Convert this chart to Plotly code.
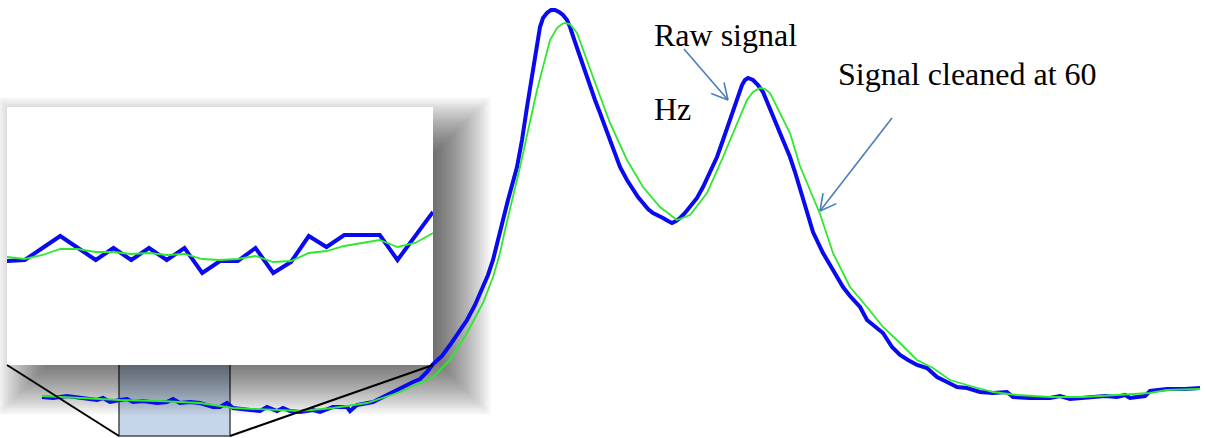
import math
import plotly.graph_objects as go

# ---- main trace: raw signal (blue) and 60 Hz cleaned signal (green) ----
raw_x = [42, 53, 67, 83, 97, 103, 110, 120, 127, 133, 143, 157, 167, 173, 180, 190, 200, 213, 220, 227,
         233, 250, 260, 267, 277, 283, 290, 300, 313, 320, 333, 347, 350, 357, 373, 387, 400, 413, 420, 427,
         433, 442, 450, 458, 467, 475, 483, 488, 493, 500, 508, 517, 522, 527, 533, 540, 543, 547, 551, 555,
         559, 563, 567, 570, 575, 580, 585, 590, 595, 600, 605, 610, 615, 620, 627, 633, 638, 643, 648, 653,
         658, 663, 668, 672, 676, 680, 685, 690, 697, 703, 710, 717, 723, 730, 737, 742, 745, 748, 753, 758,
         763, 770, 775, 780, 785, 790, 795, 800, 807, 813, 817, 823, 833, 843, 850, 860, 867, 875, 883, 892,
         900, 908, 917, 927, 937, 947, 957, 967, 980, 993, 1007, 1013, 1030, 1050, 1060, 1070, 1083, 1095,
         1105, 1117, 1125, 1130, 1140, 1145, 1150, 1167, 1185, 1200]
raw_y = [41, 40, 42, 40, 38, 40, 36, 38, 39, 36, 37, 35, 36, 39, 35, 36, 35, 31, 31, 35,
         30, 28, 27, 31, 27, 30, 27, 26, 28, 26, 31, 31, 27, 33, 36, 43, 50, 56, 59, 66,
         74, 82, 93, 104, 118, 133, 151, 163, 178, 208, 238, 271, 298, 331, 371, 411, 420, 425, 428, 428,
         426, 423, 418, 411, 396, 381, 366, 351, 338, 325, 311, 298, 284, 271, 258, 248, 241, 235, 229, 225,
         223, 220, 217, 215, 217, 220, 225, 231, 240, 251, 265, 281, 298, 318, 341, 353, 358, 360, 358, 353,
         346, 328, 316, 305, 293, 281, 266, 248, 226, 206, 198, 185, 168, 151, 142, 131, 118, 111, 105, 91,
         83, 78, 73, 70, 61, 56, 51, 50, 46, 45, 46, 41, 40, 40, 42, 39, 40, 41,
         42, 41, 43, 40, 41, 42, 47, 49, 49, 50]

clean_x = [42, 80, 120, 160, 200, 233, 270, 300, 333, 367, 400, 427, 433, 450, 467, 483, 493, 500, 505, 520,
           537, 550, 557, 562, 565, 570, 577, 593, 610, 627, 643, 660, 677, 690, 707, 723, 740, 747, 753, 760,
           765, 770, 790, 800, 810, 820, 833, 850, 867, 883, 900, 917, 933, 950, 967, 993, 1017, 1050, 1083,
           1117, 1150, 1167, 1200]
clean_y = [42, 40, 38, 37, 35, 30, 28, 27, 30, 35, 46, 58, 61, 78, 105, 135, 161, 185, 208, 271,
           348, 398, 410, 414, 415, 414, 405, 361, 315, 278, 251, 231, 218, 223, 245, 281, 321, 338, 346, 350,
           349, 345, 305, 272, 248, 224, 185, 151, 131, 111, 95, 78, 70, 58, 53, 46, 43, 41, 41,
           43, 45, 48, 49]

# ---- magnified window: 25 consecutive samples ----
inset_samples = list(range(25))
inset_raw = [177, 178, 190, 202, 190, 178, 190, 178, 190, 178, 190, 165, 177, 177, 190, 165, 176, 202,
             191, 203, 203, 203, 178, 202, 226]
inset_clean = [181, 179, 183, 189, 189, 186, 186, 184, 185, 183, 184, 179, 178, 179, 182, 176, 177, 185,
               187, 192, 195, 198, 191, 195, 205]

W, H = 1206, 438
INSET = dict(x0=7, x1=433, y0=73, y1=331)     # magnifier panel
WINDOW = dict(x0=119, x1=230, y0=2, y1=80)    # highlighted stretch of the trace
SHADOW = dict(x0=40, x1=448, y0=66, y1=298)   # core of the panel's drop shadow

BLUE = "#0a0af0"
GREEN = "#2ee82e"
ARROW = "#4a7ebb"

fig = go.Figure()

fig.add_trace(go.Scatter(x=raw_x, y=raw_y, mode="lines",
                         line=dict(color=BLUE, width=4), hoverinfo="skip"))
fig.add_trace(go.Scatter(x=clean_x, y=clean_y, mode="lines",
                         line=dict(color=GREEN, width=1.8), hoverinfo="skip"))

fig.add_trace(go.Scatter(x=inset_samples, y=inset_raw, mode="lines", xaxis="x2", yaxis="y2",
                         line=dict(color=BLUE, width=4), hoverinfo="skip"))
fig.add_trace(go.Scatter(x=inset_samples, y=inset_clean, mode="lines", xaxis="x2", yaxis="y2",
                         line=dict(color=GREEN, width=1.8), hoverinfo="skip"))

shapes = []

# highlighted window on the trace
shapes.append(dict(type="rect", xref="x", yref="y", layer="below",
                   x0=WINDOW["x0"], x1=WINDOW["x1"], y0=WINDOW["y0"], y1=WINDOW["y1"],
                   fillcolor="#c6d6ea", line=dict(color="#4a4a4a", width=1.5)))

# soft drop shadow behind the magnifier panel: stacked translucent rectangles
N = 30
alpha = 1 - 0.45 ** (1.0 / N)
for k in range(N):
    e = -20 + k * (65.0 / N)
    shapes.append(dict(type="rect", xref="x", yref="y", layer="below",
                       x0=SHADOW["x0"] - e, x1=SHADOW["x1"] + e,
                       y0=SHADOW["y0"] - e, y1=SHADOW["y1"] + e,
                       fillcolor="black", opacity=alpha, line=dict(width=0)))

# the magnifier panel itself
shapes.append(dict(type="rect", xref="x", yref="y", layer="below",
                   x0=INSET["x0"], x1=INSET["x1"], y0=INSET["y0"], y1=INSET["y1"],
                   fillcolor="white", line=dict(width=0)))

# connector lines from panel to window
shapes.append(dict(type="line", xref="x", yref="y", layer="above",
                   x0=INSET["x0"], y0=INSET["y0"], x1=WINDOW["x0"], y1=WINDOW["y0"],
                   line=dict(color="black", width=2)))
shapes.append(dict(type="line", xref="x", yref="y", layer="above",
                   x0=INSET["x1"], y0=INSET["y0"], x1=WINDOW["x1"], y1=WINDOW["y0"],
                   line=dict(color="black", width=2)))


def arrow(start, tip, head=18, spread=math.radians(28)):
    ux, uy = tip[0] - start[0], tip[1] - start[1]
    n = math.hypot(ux, uy)
    ux, uy = ux / n, uy / n
    out = [dict(type="line", xref="x", yref="y", layer="above",
                x0=start[0], y0=start[1], x1=tip[0], y1=tip[1],
                line=dict(color=ARROW, width=1.6))]
    for s in (spread, -spread):
        c, si = math.cos(s), math.sin(s)
        bx = ux * c - uy * si
        by = ux * si + uy * c
        out.append(dict(type="line", xref="x", yref="y", layer="above",
                        x0=tip[0], y0=tip[1], x1=tip[0] - head * bx, y1=tip[1] - head * by,
                        line=dict(color=ARROW, width=1.6)))
    return out


shapes += arrow((684, 389), (728, 338))
shapes += arrow((892, 320), (820, 227))

label_font = dict(family="Liberation Serif, Times New Roman, serif", size=32, color="black")
annotations = [
    dict(text="Raw signal", x=652, y=403, xref="x", yref="y", xanchor="left", yanchor="middle",
         showarrow=False, font=label_font),
    dict(text="Hz", x=652, y=329, xref="x", yref="y", xanchor="left", yanchor="middle",
         showarrow=False, font=label_font),
    dict(text="Signal cleaned at 60", x=836, y=364, xref="x", yref="y", xanchor="left",
         yanchor="middle", showarrow=False, font=label_font),
]

fig.update_layout(
    width=W, height=H,
    margin=dict(l=0, r=0, t=0, b=0),
    paper_bgcolor="white", plot_bgcolor="rgba(0,0,0,0)",
    showlegend=False,
    xaxis=dict(range=[0, W], domain=[0, 1], visible=False, fixedrange=True),
    yaxis=dict(range=[0, H], domain=[0, 1], visible=False, fixedrange=True),
    xaxis2=dict(range=[0, 24], domain=[INSET["x0"] / W, INSET["x1"] / W], anchor="y2",
                visible=False, fixedrange=True),
    yaxis2=dict(range=[INSET["y0"], INSET["y1"]], domain=[INSET["y0"] / H, INSET["y1"] / H],
                anchor="x2", visible=False, fixedrange=True),
    shapes=shapes,
    annotations=annotations,
)

fig.write_html("out.html", config={"displayModeBar": False})
